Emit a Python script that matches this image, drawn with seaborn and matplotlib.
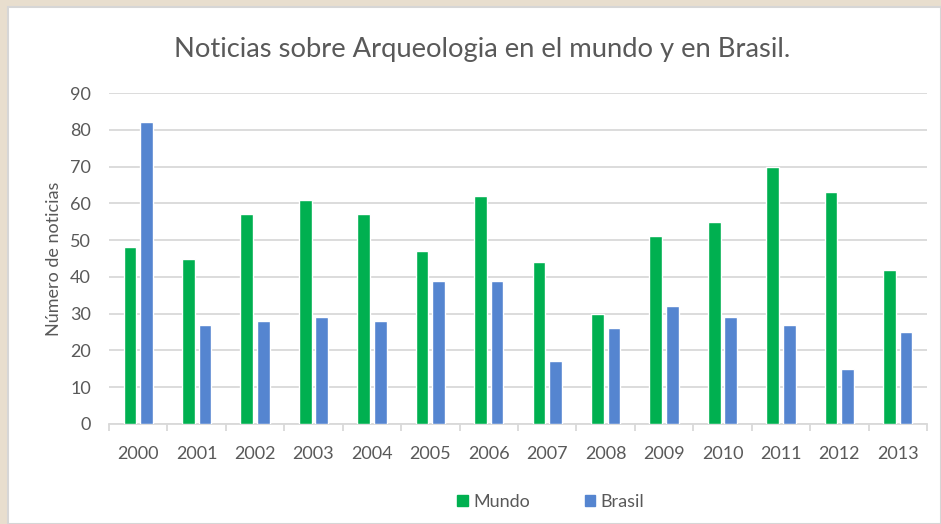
import pandas as pd
import matplotlib.pyplot as plt
import matplotlib.patches as mpatches
import seaborn as sns

# datos
anios = ["2000", "2001", "2002", "2003", "2004", "2005", "2006",
         "2007", "2008", "2009", "2010", "2011", "2012", "2013"]
mundo = [48, 45, 57, 61, 57, 47, 62, 44, 30, 51, 55, 70, 63, 42]
brasil = [82, 27, 28, 29, 28, 39, 39, 17, 26, 32, 29, 27, 15, 25]

df = pd.DataFrame({"Año": anios * 2,
                   "Noticias": mundo + brasil,
                   "Serie": ["Mundo"] * len(anios) + ["Brasil"] * len(anios)})

sns.set_theme(style="white")
plt.rcParams['font.family'] = ['Lato', 'DejaVu Sans']
gris_texto = '#595959'

fig = plt.figure(figsize=(9.41, 5.24), dpi=100)
fig.patch.set_facecolor('#e8dece')
# marco blanco del grafico
fondo = mpatches.Rectangle((8 / 941, 0), 1 - 8 / 941, 1 - 7 / 524, transform=fig.transFigure,
                           facecolor='white', edgecolor='#d6d6d6', linewidth=1.5, zorder=-5)
fig.patches.append(fondo)

ax = fig.add_axes([109 / 941, 1 - 424 / 524, (927 - 109) / 941, (424 - 93) / 524])
ax.set_facecolor('none')

colores = {"Mundo": "#00b050", "Brasil": "#5585d0"}
sns.barplot(data=df, x="Año", y="Noticias", hue="Serie", palette=colores,
            width=0.57, gap=0.24, saturation=1, ax=ax, legend=False, zorder=3)

ax.set_ylim(0, 90)
ax.set_yticks(range(0, 91, 10))
ax.set_xlim(-0.5, len(anios) - 0.5)
ax.set_axisbelow(True)
ax.yaxis.grid(True, color='#d9d9d9', linewidth=1.3)
ax.xaxis.grid(False)
for lado in ['top', 'right', 'left']:
    ax.spines[lado].set_visible(False)
ax.spines['bottom'].set_color('#d9d9d9')
ax.spines['bottom'].set_linewidth(1.3)

ax.tick_params(axis='both', which='major', length=0, labelsize=13, labelcolor=gris_texto)
ax.tick_params(axis='y', pad=13)
ax.tick_params(axis='x', pad=16)
ax.set_xticks([i - 0.5 for i in range(len(anios) + 1)], minor=True)
ax.tick_params(axis='x', which='minor', length=5, width=1.3, color='#d9d9d9', bottom=True)

ax.set_xlabel("")
ax.set_ylabel("Número de noticias", fontsize=13, color=gris_texto, labelpad=6)

fig.text(482 / 941, 1 - 50 / 524, "Noticias sobre Arqueologia en el mundo y en Brasil.",
         ha='center', va='center', fontsize=19.7, color=gris_texto)

handles = [mpatches.Patch(color=colores["Mundo"], label="Mundo"),
           mpatches.Patch(color=colores["Brasil"], label="Brasil")]
fig.legend(handles=handles, loc='center', bbox_to_anchor=(551 / 941, 1 - 502 / 524), ncol=2,
           frameon=False, fontsize=13, labelcolor=gris_texto, handlelength=0.6,
           handleheight=0.6, handletextpad=0.3, columnspacing=3.0)

fig.savefig("out.png", dpi=100, facecolor=fig.get_facecolor())
